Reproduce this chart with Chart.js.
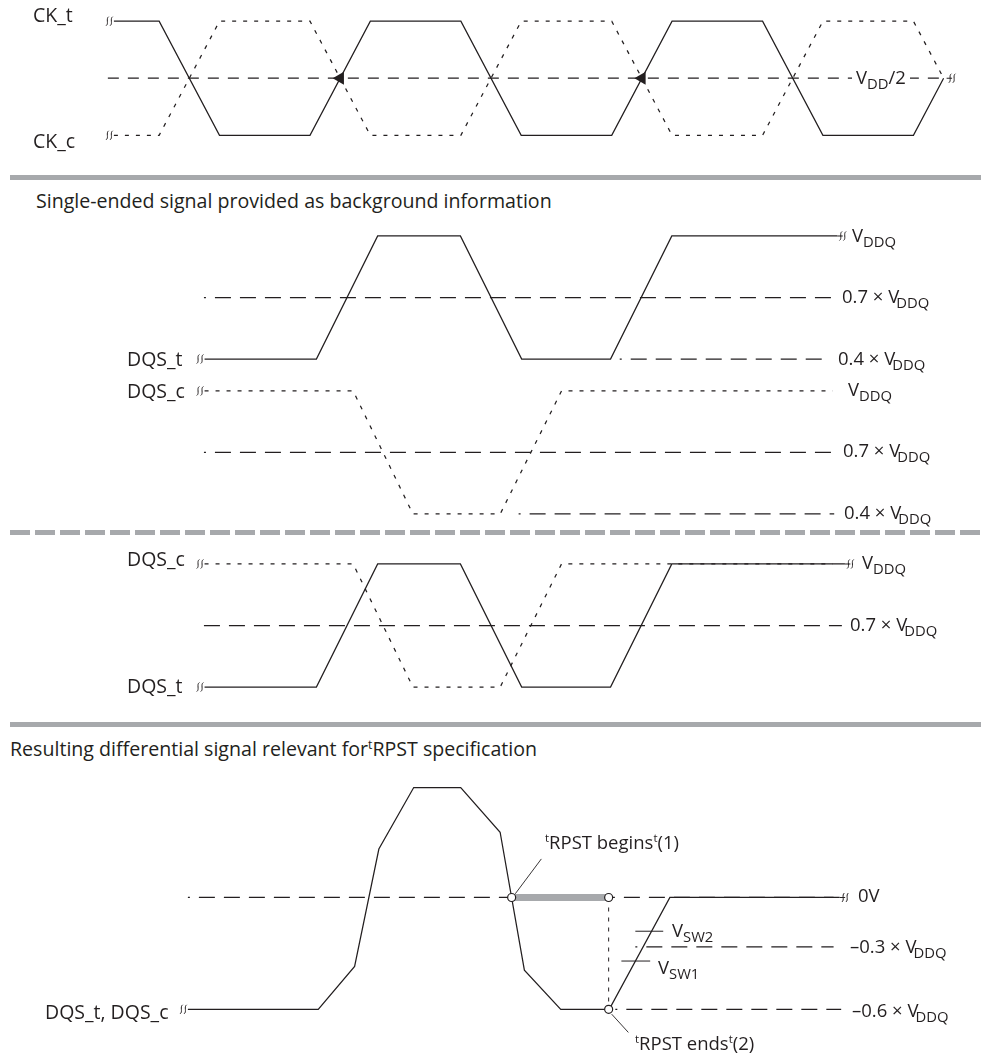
<!DOCTYPE html>
<html lang="en">
  <head>
    <meta charset="UTF-8" />
    <title>tRPST - differential read postamble</title>
    <script src="https://cdn.jsdelivr.net/npm/chart.js"></script>
    <style>
      html, body {
        margin: 0;
        background: #fff;
        overflow: hidden;
        font-family: "Open Sans", sans-serif;
        color: #231f20;
      }
      #page {
        position: relative;
        width: 981px;
        height: 1057px;
      }
      canvas {
        position: absolute;
        left: 0;
      }
      .lbl {
        position: absolute;
        font-size: 18.5px;
        line-height: 1;
        white-space: nowrap;
        transform: translateY(-50%);
      }
      .lbl sub {
        font-size: 0.8em;
        vertical-align: -0.35em;
        line-height: 0;
      }
      .lbl.x sub { margin-left: -0.2em; }
      .lbl sup {
        font-size: 0.62em;
        vertical-align: 0.6em;
        line-height: 0;
      }
      .name { font-size: 19.5px; }
      .title { font-size: 19.6px; }
      .sep {
        position: absolute;
        left: 10px;
        right: 0;
        height: 5px;
        background: #a7a9ac;
      }
      .sep.dashed {
        background: repeating-linear-gradient(to right, #a7a9ac 0 20px, transparent 20px 25px);
      }
    </style>
  </head>
  <body>
    <div id="page">
      <canvas id="ckChart" width="981" height="172" style="top: 0px"></canvas>
      <canvas id="dqsTChart" width="981" height="160" style="top: 215px"></canvas>
      <canvas id="dqsCChart" width="981" height="150" style="top: 375px"></canvas>
      <canvas id="overlayChart" width="981" height="170" style="top: 540px"></canvas>
      <canvas id="diffChart" width="981" height="292" style="top: 765px"></canvas>

      <div class="sep" style="top: 175px"></div>
      <div class="sep dashed" style="top: 530px"></div>
      <div class="sep" style="top: 722px"></div>

      <!-- clock -->
      <div class="lbl name" style="left: 33px; top: 15px">CK_t</div>
      <div class="lbl name" style="left: 33px; top: 141px">CK_c</div>
      <div class="lbl" style="left: 852px; top: 77px; background: #fff; padding: 0 4px">V<sub>DD</sub>/2</div>

      <!-- single ended -->
      <div class="lbl title" style="left: 36px; top: 201px">Single-ended signal provided as background information</div>
      <div class="lbl name" style="left: 127px; top: 359px">DQS_t</div>
      <div class="lbl" style="left: 852px; top: 235px">V<sub>DDQ</sub></div>
      <div class="lbl x" style="left: 842px; top: 296px">0.7 × V<sub>DDQ</sub></div>
      <div class="lbl x" style="left: 838px; top: 358px">0.4 × V<sub>DDQ</sub></div>
      <div class="lbl name" style="left: 127px; top: 391px">DQS_c</div>
      <div class="lbl" style="left: 848px; top: 389px">V<sub>DDQ</sub></div>
      <div class="lbl x" style="left: 843px; top: 450px">0.7 × V<sub>DDQ</sub></div>
      <div class="lbl x" style="left: 844px; top: 512px">0.4 × V<sub>DDQ</sub></div>

      <!-- overlaid -->
      <div class="lbl name" style="left: 127px; top: 559px">DQS_c</div>
      <div class="lbl name" style="left: 127px; top: 686px">DQS_t</div>
      <div class="lbl" style="left: 862px; top: 562px">V<sub>DDQ</sub></div>
      <div class="lbl x" style="left: 850px; top: 624px">0.7 × V<sub>DDQ</sub></div>

      <!-- differential -->
      <div class="lbl title" style="left: 10px; top: 749px">Resulting differential signal relevant for<sup>t</sup>RPST specification</div>
      <div class="lbl name" style="left: 45px; top: 1012px">DQS_t, DQS_c</div>
      <div class="lbl" style="left: 858px; top: 895px">0V</div>
      <div class="lbl x" style="left: 850px; top: 946px">–0.3 × V<sub>DDQ</sub></div>
      <div class="lbl x" style="left: 852px; top: 1010px">–0.6 × V<sub>DDQ</sub></div>
      <div class="lbl" style="left: 672px; top: 930px">V<sub>SW2</sub></div>
      <div class="lbl" style="left: 658px; top: 967px">V<sub>SW1</sub></div>
      <div class="lbl" style="left: 545px; top: 842px"><sup>t</sup>RPST begins<sup>t</sup>(1)</div>
      <div class="lbl" style="left: 635px; top: 1043px"><sup>t</sup>RPST ends<sup>t</sup>(2)</div>
    </div>

    <script>
      // time in tCK (0 = first CK_t falling edge), levels in VDD / VDDQ
      const ckTime = [-0.15, 0, 0.2, 0.5, 0.7, 1.0, 1.2, 1.5, 1.7, 2.0, 2.2, 2.5, 2.6];
      const ckT = [1, 1, 0, 0, 1, 1, 0, 0, 1, 1, 0, 0, 0.5];
      const ckC = [0, 0, 1, 1, 0, 0, 1, 1, 0, 0, 1, 1, 0.5];
      const ckMid = 0.5;
      const ckMidSpan = [-0.17, 2.61];
      const ckCrossings = [0.6, 1.6];

      const dqsTTime = [0.165, 0.53, 0.73, 1.0, 1.2, 1.49, 1.69, 2.23];
      const dqsT = [0.4, 0.4, 1, 1, 0.4, 0.4, 1, 1];
      const dqsTTimeOverlay = [0.165, 0.53, 0.73, 1.0, 1.2, 1.49, 1.69, 2.255];
      const dqsCTime = [0.165, 0.65, 0.845, 1.13, 1.33, 2.215];
      const dqsC = [1, 1, 0.4, 0.4, 1, 1];

      const seLevels = [0.7, 0.4];
      const seTSpans = [[0.163, 2.216], [1.52, 2.196]];
      const seCSpans = [[0.163, 2.216], [1.19, 2.22]];
      const overlayLevel = 0.7;
      const overlaySpan = [0.163, 2.245];

      const diffTime = [0.1, 0.53, 0.65, 0.73, 0.845, 1.0, 1.13, 1.21, 1.33, 1.49, 1.69, 2.25];
      const diffLevel = [-0.6, -0.6, -0.37, 0.26, 0.59, 0.59, 0.35, -0.39, -0.6, -0.6, 0, 0];
      const diffLevels = [0, -0.265, -0.6];
      const diffSpans = [[0.1, 2.23], [1.576, 2.23], [1.51, 2.255]];

      const rpstBegin = 1.168;
      const rpstEnd = 1.488;
      const vsw2 = { time: [1.576, 1.668], level: -0.181 };
      const vsw1 = { time: [1.53, 1.625], level: -0.341 };
      const beginCallout = { time: [1.18, 1.266], level: [0.02, 0.207] };
      const endCallout = { time: [1.498, 1.553], level: [-0.626, -0.724] };

      const T_MIN = -0.5026;
      const T_MAX = 2.6991;
      const INK = "#231f20";
      const RULE = "#a7a9ac";

      const pts = (ts, vs) => ts.map((t, i) => ({ x: t, y: vs[i] }));
      const span = (range, level) => [{ x: range[0], y: level }, { x: range[1], y: level }];

      function line(data, extra) {
        return Object.assign(
          { data, borderColor: INK, borderWidth: 1.25, pointRadius: 0, fill: false, tension: 0 },
          extra
        );
      }
      const DOTTED = { borderDash: [4, 7] };
      const REF = { borderDash: [16, 9], borderDashOffset: 14 };

      // little "ss" break marks at the ends of a trace
      const breakMarks = {
        id: "breakMarks",
        afterDatasetsDraw(chart) {
          const ctx = chart.ctx;
          chart.data.datasets.forEach((ds, i) => {
            if (!ds.breaks) return;
            const els = chart.getDatasetMeta(i).data;
            ds.breaks.forEach((side) => {
              const p = side === "start" ? els[0] : els[els.length - 1];
              const cx = side === "start" ? p.x - 4.5 : p.x + 5.5;
              ctx.save();
              ctx.strokeStyle = INK;
              ctx.lineWidth = 1;
              ctx.setLineDash([]);
              if (side === "end") {
                ctx.beginPath();
                ctx.moveTo(p.x, p.y);
                ctx.lineTo(cx, p.y);
                ctx.stroke();
              }
              [-2, 2].forEach((dx) => {
                ctx.beginPath();
                ctx.moveTo(cx + dx + 1.3, p.y - 4.5);
                ctx.bezierCurveTo(cx + dx - 1.8, p.y - 2.5, cx + dx + 1.8, p.y + 2.5, cx + dx - 1.3, p.y + 4.5);
                ctx.stroke();
              });
              ctx.restore();
            });
          });
        },
      };

      function panel(id, yMin, yMax, datasets) {
        return new Chart(document.getElementById(id), {
          type: "line",
          data: { datasets },
          options: {
            responsive: false,
            animation: false,
            events: [],
            layout: { padding: 0 },
            plugins: { legend: { display: false }, tooltip: { enabled: false } },
            scales: {
              x: { type: "linear", min: T_MIN, max: T_MAX, display: false },
              y: { type: "linear", min: yMin, max: yMax, display: false },
            },
          },
          plugins: [breakMarks],
        });
      }

      // CK_t / CK_c
      panel("ckChart", -0.256, 1.12, [
        line(ckCrossings.map((t) => ({ x: t, y: ckMid })), {
          showLine: false,
          pointStyle: "triangle",
          pointRotation: -90,
          pointRadius: 7.5,
          pointBackgroundColor: INK,
          pointBorderWidth: 0,
        }),
        line(pts(ckTime, ckT), { breaks: ["start"] }),
        line(pts(ckTime, ckC), Object.assign({ breaks: ["start"] }, DOTTED)),
        line(span(ckMidSpan, ckMid), { borderDash: [11, 9], breaks: ["end"] }),
      ]);

      // single ended DQS_t
      panel("dqsTChart", 0.322, 1.1024, [
        line(pts(dqsTTime, dqsT), { breaks: ["start", "end"] }),
        line(span(seTSpans[0], seLevels[0]), REF),
        line(span(seTSpans[1], seLevels[1]), REF),
      ]);

      // single ended DQS_c
      panel("dqsCChart", 0.346, 1.078, [
        line(pts(dqsCTime, dqsC), Object.assign({ breaks: ["start"] }, DOTTED)),
        line(span(seCSpans[0], seLevels[0]), REF),
        line(span(seCSpans[1], seLevels[1]), REF),
      ]);

      // DQS_t and DQS_c overlaid
      panel("overlayChart", 0.288, 1.117, [
        line(pts(dqsTTimeOverlay, dqsT), { breaks: ["start", "end"] }),
        line(pts(dqsCTime, dqsC), Object.assign({ breaks: ["start"] }, DOTTED)),
        line(span(overlaySpan, overlayLevel), { borderDash: [16, 9] }),
      ]);

      // differential DQS_t - DQS_c
      panel("diffChart", -0.828, 0.683, [
        line(
          [
            { x: rpstBegin, y: 0 },
            { x: rpstEnd, y: 0 },
            { x: rpstEnd, y: diffLevels[2] },
          ],
          {
            showLine: false,
            pointRadius: 4,
            pointBackgroundColor: "#fff",
            pointBorderColor: INK,
            pointBorderWidth: 1.2,
          }
        ),
        line(pts(beginCallout.time, beginCallout.level), { borderWidth: 0.9 }),
        line(pts(endCallout.time, endCallout.level), { borderWidth: 0.9 }),
        line(span(vsw2.time, vsw2.level), { borderWidth: 1 }),
        line(span(vsw1.time, vsw1.level), { borderWidth: 1 }),
        line(pts(diffTime, diffLevel), { breaks: ["start", "end"] }),
        line(
          [
            { x: rpstEnd, y: 0 },
            { x: rpstEnd, y: diffLevels[2] },
          ],
          { borderWidth: 1, borderDash: [4, 6] }
        ),
        line(span([rpstBegin, rpstEnd], 0), { borderColor: RULE, borderWidth: 7 }),
        line(span(diffSpans[0], diffLevels[0]), REF),
        line(span(diffSpans[1], diffLevels[1]), REF),
        line(span(diffSpans[2], diffLevels[2]), REF),
      ]);
    </script>
  </body>
</html>
